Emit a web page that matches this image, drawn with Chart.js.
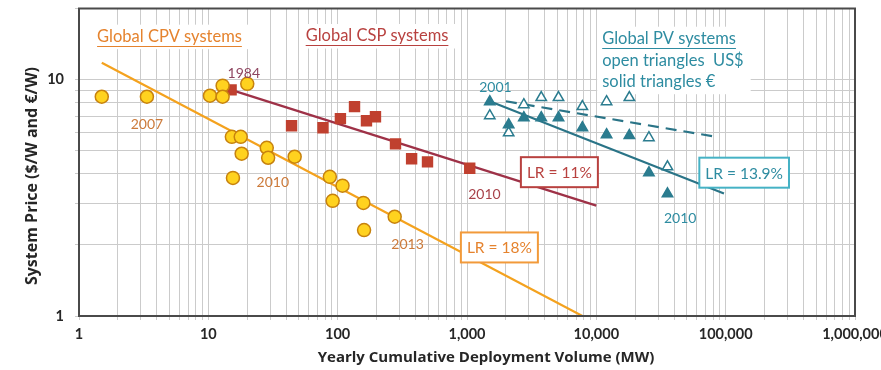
<!DOCTYPE html>
<html>
<head>
<meta charset="utf-8">
<script src="https://cdn.jsdelivr.net/npm/chart.js@4.4.1/dist/chart.umd.min.js"></script>
<style>
  html, body { margin: 0; padding: 0; background: #fff; }
</style>
</head>
<body>
<canvas id="learningChart" width="881" height="370"></canvas>
<script>
/* ===============================
   Learning curves - CPV / CSP / PV
================================ */
const FONT = "Lato, 'Open Sans', sans-serif";
const AXIS_FONT = "'Open Sans', Lato, sans-serif";

// Global CPV systems (yellow circles)
const cpvVolume = [1.5, 3.35, 10.3, 12.9, 12.9, 20, 15.2, 17.8, 18.1, 15.5, 28.3, 29, 46.5, 87, 109, 91.5, 158, 160, 276];
const cpvPrice = [8.47, 8.47, 8.55, 9.43, 8.47, 9.6, 5.73, 5.73, 4.86, 3.84, 5.15, 4.67, 4.72, 3.88, 3.56, 3.07, 3.01, 2.31, 2.63];

// Global CSP systems (squares)
const cspVolume = [15, 44, 77, 105, 135, 167, 196, 280, 373, 495, 1050];
const cspPrice = [9.05, 6.38, 6.26, 6.84, 7.69, 6.7, 6.97, 5.35, 4.63, 4.49, 4.22];

// Global PV systems, open = US$, solid = EUR
const pvVolume = [1500, 2100, 2750, 3750, 5100, 7800, 12000, 18000, 25500, 35500];
const pvPriceUsd = [7.04, 5.96, 7.84, 8.4, 8.4, 7.69, 8.07, 8.4, 5.68, 4.28];
const pvPriceEur = [8.07, 6.45, 6.9, 6.9, 6.9, 6.26, 5.85, 5.8, 4.04, 3.29];

// Experience curve end points
const cpvFitVolume = [1.5, 7800];
const cpvFitPrice = [11.8, 1.0];
const cspFitVolume = [15, 10000];
const cspFitPrice = [9.05, 2.93];
const pvEurFitVolume = [1500, 97000];
const pvEurFitPrice = [8.1, 3.3];
const pvUsdFitVolume = [2000, 85000];
const pvUsdFitPrice = [8.1, 5.73];

// Axis labels
const xTickLabels = [1, 10, 100, 1000, 10000, 100000, 1000000];
const yTickLabels = [1, 10];

const COLORS = {
  cpv: "#E5832E",
  cpvYear: "#CC7A3A",
  cpvLine: "#F4A21E",
  cpvFill: "#FFD21F",
  cpvEdge: "#C7820E",
  csp: "#B8413F",
  cspYear: "#A8424A",
  cspLine: "#9E3147",
  cspFill: "#C0402F",
  pv: "#2E8CA1",
  pvLine: "#2A7487",
  pvMark: "#2B7C8F",
  pvBox: "#45B2C5",
};

// text placed in data coordinates (volume, price)
const titleNotes = [
  { lines: ["Global CPV systems"], x: 1.38, y: 15.2, color: COLORS.cpv },
  { lines: ["Global CSP systems"], x: 56.6, y: 15.3, color: COLORS.csp },
  { lines: ["Global PV systems", "open triangles  US$", "solid triangles \u20AC"], x: 11100, y: 14.9, color: COLORS.pv },
];

const yearNotes = [
  { text: "1984", x: 18.8, y: 10.6, color: "#8E4560" },
  { text: "2007", x: 3.35, y: 6.45, color: COLORS.cpvYear },
  { text: "2010", x: 31.5, y: 3.66, color: COLORS.cpvYear },
  { text: "2013", x: 347, y: 2.0, color: COLORS.cpvYear },
  { text: "2010", x: 1365, y: 3.26, color: COLORS.cspYear },
  { text: "2001", x: 1660, y: 9.25, color: COLORS.pv },
  { text: "2010", x: 44500, y: 2.58, color: COLORS.pv },
];

const rateBoxes = [
  { text: "LR = 11%", x: 5180, y: 4.06, color: COLORS.csp, edge: COLORS.csp },
  { text: "LR = 18%", x: 1780, y: 1.95, color: COLORS.cpv, edge: "#F29A3A" },
  { text: "LR = 13.9%", x: 139000, y: 4.04, color: COLORS.pv, edge: COLORS.pvBox },
];

const toPoints = (xs, ys) => xs.map((x, i) => ({ x, y: ys[i] }));

// grid lines at 1..9 x 10^n
function logGrid(min, max) {
  const vals = [];
  for (let d = min; d < max; d *= 10) {
    for (let m = 1; m < 10; m++) vals.push(m * d);
  }
  vals.push(max);
  return vals;
}
const xGrid = logGrid(1, 1000000);
const yGrid = logGrid(1, 10).concat([20]);

/* ===============================
   Annotation plugin
================================ */
const TITLE_FONT = "16.5px " + FONT;
const LINE_GAP = 21.5;

const notesPlugin = {
  id: "notes",
  beforeDatasetsDraw(chart) {
    // white panels hide the grid behind the group titles
    const { ctx, scales } = chart;
    ctx.save();
    ctx.font = TITLE_FONT;
    titleNotes.forEach((n) => {
      const px = scales.x.getPixelForValue(n.x);
      const py = scales.y.getPixelForValue(n.y);
      const w = Math.max(...n.lines.map((l) => ctx.measureText(l).width));
      ctx.fillStyle = "#fff";
      ctx.fillRect(px - 5, py - 12, w + 12, n.lines.length * LINE_GAP + 3);
    });
    ctx.restore();
  },
  afterDatasetsDraw(chart) {
    const { ctx, scales } = chart;
    ctx.save();
    ctx.textBaseline = "middle";

    // group titles, first line underlined
    ctx.font = TITLE_FONT;
    titleNotes.forEach((n) => {
      const px = scales.x.getPixelForValue(n.x);
      const py = scales.y.getPixelForValue(n.y);
      ctx.fillStyle = n.color;
      ctx.strokeStyle = n.color;
      ctx.textAlign = "left";
      n.lines.forEach((line, i) => {
        const ly = py + i * LINE_GAP;
        ctx.fillText(line, px, ly);
        if (i === 0) {
          const w = ctx.measureText(line).width;
          ctx.lineWidth = 1;
          ctx.beginPath();
          ctx.moveTo(px, Math.round(ly + 9) + 0.5);
          ctx.lineTo(px + w, Math.round(ly + 9) + 0.5);
          ctx.stroke();
        }
      });
    });

    // year labels
    ctx.font = "14px " + FONT;
    ctx.textAlign = "center";
    yearNotes.forEach((n) => {
      ctx.fillStyle = n.color;
      ctx.fillText(n.text, scales.x.getPixelForValue(n.x), scales.y.getPixelForValue(n.y));
    });

    // learning rate boxes
    ctx.font = "15.5px " + FONT;
    rateBoxes.forEach((b) => {
      const px = scales.x.getPixelForValue(b.x);
      const py = scales.y.getPixelForValue(b.y);
      const w = ctx.measureText(b.text).width + 12;
      const h = 30;
      ctx.fillStyle = "#fff";
      ctx.fillRect(px - w / 2, py - h / 2, w, h);
      ctx.lineWidth = 2;
      ctx.strokeStyle = b.edge;
      ctx.strokeRect(px - w / 2, py - h / 2, w, h);
      ctx.fillStyle = b.color;
      ctx.fillText(b.text, px, py + 1);
    });
    ctx.restore();
  },
  afterDraw(chart) {
    const { ctx, chartArea } = chart;
    const { left, right, top, bottom } = chartArea;
    ctx.save();
    // plot frame
    ctx.strokeStyle = "#4a4a4a";
    ctx.lineWidth = 2;
    ctx.strokeRect(left, top, right - left, bottom - top);

    // axis titles
    ctx.fillStyle = "#262626";
    ctx.textAlign = "center";
    ctx.textBaseline = "middle";
    ctx.font = "bold 15px " + AXIS_FONT;
    ctx.fillText("Yearly Cumulative Deployment Volume (MW)", (left + right) / 2 + 19, 358);
    ctx.font = "bold 16px " + AXIS_FONT;
    ctx.translate(32, 176);
    ctx.rotate(-Math.PI / 2);
    ctx.fillText("System Price ($/W and \u20AC/W)", 0, 0);
    ctx.restore();
  },
};

/* ===============================
   Chart
================================ */
const pointSet = (data, style, fill, edge, radius) => ({
  data,
  showLine: false,
  pointStyle: style,
  pointRadius: radius,
  pointHoverRadius: radius,
  backgroundColor: fill,
  borderColor: edge,
  borderWidth: 1.5,
});

const lineSet = (data, color, dash) => ({
  data,
  showLine: true,
  pointRadius: 0,
  borderColor: color,
  borderWidth: 2.2,
  borderDash: dash || [],
  fill: false,
});

new Chart(document.getElementById("learningChart"), {
  type: "scatter",
  data: {
    datasets: [
      pointSet(toPoints(cpvVolume, cpvPrice), "circle", COLORS.cpvFill, COLORS.cpvEdge, 6.5),
      pointSet(toPoints(cspVolume, cspPrice), "rect", COLORS.cspFill, COLORS.cspFill, 7),
      pointSet(toPoints(pvVolume, pvPriceEur), "triangle", COLORS.pvMark, COLORS.pvMark, 6),
      pointSet(toPoints(pvVolume, pvPriceUsd), "triangle", "#fff", COLORS.pvMark, 6),
      lineSet(toPoints(cpvFitVolume, cpvFitPrice), COLORS.cpvLine),
      lineSet(toPoints(cspFitVolume, cspFitPrice), COLORS.cspLine),
      lineSet(toPoints(pvEurFitVolume, pvEurFitPrice), COLORS.pvLine),
      lineSet(toPoints(pvUsdFitVolume, pvUsdFitPrice), COLORS.pvLine, [11, 7]),
    ],
  },
  options: {
    responsive: false,
    animation: false,
    layout: { padding: { top: 8, right: 26, left: 0, bottom: 0 } },
    plugins: {
      legend: { display: false },
      tooltip: { enabled: false },
    },
    scales: {
      x: {
        type: "logarithmic",
        min: 1,
        max: 1000000,
        afterBuildTicks: (scale) => {
          scale.ticks = xGrid.map((v) => ({ value: v }));
        },
        afterFit: (scale) => {
          scale.height = 54;
          scale.paddingLeft = 0;
          scale.paddingRight = 0;
        },
        grid: { color: "#cbcbcb", lineWidth: 1, tickLength: 4 },
        border: { display: false },
        ticks: {
          autoSkip: false,
          maxRotation: 0,
          padding: 6,
          color: "#262626",
          font: { family: FONT, size: 14.5, weight: "bold" },
          callback: (v) => (xTickLabels.includes(v) ? v.toLocaleString("en-US") : ""),
        },
      },
      y: {
        type: "logarithmic",
        min: 1,
        max: 20,
        afterBuildTicks: (scale) => {
          scale.ticks = yGrid.map((v) => ({ value: v }));
        },
        afterFit: (scale) => {
          scale.width = 79;
          scale.paddingTop = 0;
          scale.paddingBottom = 0;
        },
        grid: { color: "#cbcbcb", lineWidth: 1, tickLength: 4 },
        border: { display: false },
        ticks: {
          autoSkip: false,
          padding: 11,
          color: "#262626",
          font: { family: FONT, size: 14.5, weight: "bold" },
          callback: (v) => (yTickLabels.includes(v) ? String(v) : ""),
        },
      },
    },
  },
  plugins: [notesPlugin],
});
</script>
</body>
</html>
